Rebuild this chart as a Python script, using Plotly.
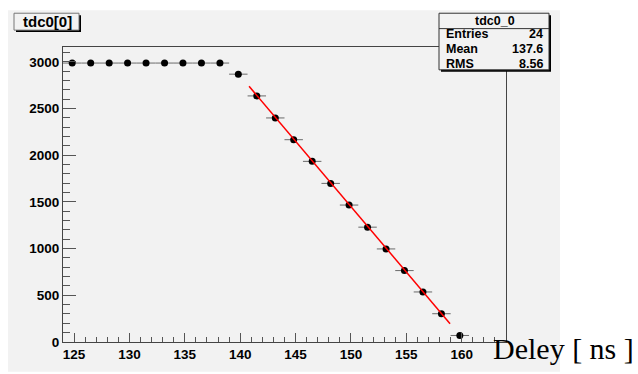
import plotly.graph_objects as go

# ---- data ----
bin_centers = [124.83, 126.50, 128.17, 129.83, 131.50, 133.17, 134.83, 136.50,
               138.17, 139.83, 141.50, 143.17, 144.83, 146.50, 148.17, 149.83,
               151.50, 153.17, 154.83, 156.50, 158.17, 159.83]
counts = [2988, 2988, 2988, 2988, 2988, 2988, 2988, 2988,
          2988, 2869, 2636, 2400, 2167, 1935, 1699, 1467,
          1230, 997, 765, 536, 303, 70]
bin_half_width = [0.833] * len(bin_centers)

fit_range = [140.8, 158.95]
fit_intercept = 2739 + 140.1 * 140.8   # linear fit: y = a + b*x
fit_slope = -140.1

x_ticks = [125, 130, 135, 140, 145, 150, 155, 160]
y_ticks = [0, 500, 1000, 1500, 2000, 2500, 3000]

hist_title = "tdc0[0]"
stats_title = "tdc0_0"
stats_labels = ["Entries", "Mean", "RMS"]
stats_values = ["24", "137.6", "8.56"]
x_title = "Deley [ ns ]"

# ---- layout helpers (pixel -> paper) ----
W, H = 638, 374
L, R, T, B = 63, 132, 47, 30
PW, PH = W - L - R, H - T - B
def px(x): return (x - L) / PW
def py(y): return (H - B - y) / PH

BG = "#f2f2f2"
SANS = "Liberation Sans, Arial, sans-serif"

fig = go.Figure()
fig.add_trace(go.Scatter(
    x=bin_centers, y=counts, mode="markers",
    marker=dict(color="black", size=7),
    error_x=dict(type="data", array=bin_half_width, color="#6a6a6a",
                 thickness=1, width=0),
    showlegend=False, cliponaxis=False))

fit_x = fit_range
fit_y = [fit_intercept + fit_slope * v for v in fit_x]
fig.add_trace(go.Scatter(x=fit_x, y=fit_y, mode="lines",
                         line=dict(color="#ff0000", width=1.5),
                         showlegend=False))

axis_common = dict(showgrid=False, zeroline=False, showline=True,
                   linecolor="#444", linewidth=1, mirror=True,
                   ticks="inside", tickcolor="#555",
                   tickfont=dict(family=SANS, size=13.5, color="black", weight="bold"))

fig.update_xaxes(range=[124, 164], tickvals=x_ticks, ticklen=9,
                 minor=dict(dtick=1, tick0=124, ticklen=5, ticks="inside", tickcolor="#555"),
                 ticklabelstandoff=0, **axis_common)
fig.update_yaxes(range=[0, 3160], tickvals=y_ticks, ticklen=13,
                 minor=dict(dtick=100, tick0=0, ticklen=7, ticks="inside", tickcolor="#555"),
                 ticklabelstandoff=0, **axis_common)

shapes = []
# canvas grey area
shapes.append(dict(type="rect", xref="paper", yref="paper", layer="below",
                   x0=px(8), x1=px(560), y0=py(10), y1=py(374),
                   fillcolor=BG, line=dict(width=0)))
# title box with shadow
shapes.append(dict(type="rect", xref="paper", yref="paper",
                   x0=px(16), x1=px(81), y0=py(15), y1=py(32),
                   fillcolor="black", line=dict(width=0)))
shapes.append(dict(type="rect", xref="paper", yref="paper",
                   x0=px(14), x1=px(79), y0=py(13), y1=py(30),
                   fillcolor=BG, line=dict(color="#777", width=1)))
# stats box with shadow
shapes.append(dict(type="rect", xref="paper", yref="paper",
                   x0=px(441), x1=px(551), y0=py(15), y1=py(72),
                   fillcolor="black", line=dict(width=0)))
shapes.append(dict(type="rect", xref="paper", yref="paper",
                   x0=px(439), x1=px(549), y0=py(13), y1=py(70),
                   fillcolor=BG, line=dict(color="#333", width=1)))
shapes.append(dict(type="line", xref="paper", yref="paper",
                   x0=px(439), x1=px(549), y0=py(28.5), y1=py(28.5),
                   line=dict(color="#333", width=1)))

ann = []
ann.append(dict(text=hist_title, xref="paper", yref="paper", x=px(47), y=py(21.5),
                xanchor="center", yanchor="middle", showarrow=False,
                font=dict(family=SANS, size=15, color="black", weight="bold")))
ann.append(dict(text=stats_title, xref="paper", yref="paper", x=px(495), y=py(20.5),
                xanchor="center", yanchor="middle", showarrow=False,
                font=dict(family=SANS, size=12.5, color="black", weight="bold")))
rows_y = [33.5, 49, 64]
for lab, val, yy in zip(stats_labels, stats_values, rows_y):
    ann.append(dict(text=lab, xref="paper", yref="paper", x=px(444), y=py(yy),
                    xanchor="left", yanchor="middle", showarrow=False,
                    font=dict(family=SANS, size=12.5, color="black", weight="bold")))
    ann.append(dict(text=val, xref="paper", yref="paper", x=px(545), y=py(yy),
                    xanchor="right", yanchor="middle", showarrow=False,
                    font=dict(family=SANS, size=12.5, color="black", weight="bold")))
ann.append(dict(text=x_title, xref="paper", yref="paper", x=px(636), y=py(351),
                xanchor="right", yanchor="middle", showarrow=False,
                font=dict(family="Liberation Serif, Times New Roman, serif", size=30, color="black")))

fig.update_layout(width=W, height=H, margin=dict(l=L, r=R, t=T, b=B, pad=0),
                  paper_bgcolor="white", plot_bgcolor=BG,
                  shapes=shapes, annotations=ann, showlegend=False)

fig.write_html("out.html")
